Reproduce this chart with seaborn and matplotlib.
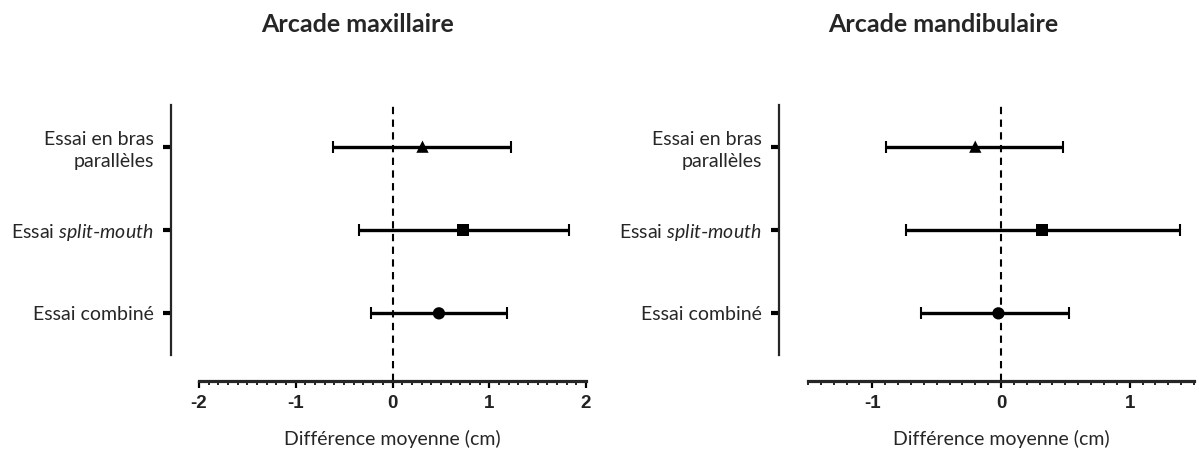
import numpy as np
import pandas as pd
import matplotlib
matplotlib.use("Agg")
import matplotlib.pyplot as plt
from matplotlib.ticker import MultipleLocator
import seaborn as sns

sns.set_theme(style="ticks")
plt.rcParams["font.family"] = ["Lato", "DejaVu Sans"]
plt.rcParams["mathtext.fontset"] = "custom"
plt.rcParams["mathtext.rm"] = "Lato"
plt.rcParams["mathtext.it"] = "Lato:italic"

trials = ["Essai en bras\nparallèles", "Essai $\\it{split}$-$\\it{mouth}$", "Essai combiné"]
markers = ["^", "s", "o"]

maxi_mean = [0.31, 0.73, 0.48]
maxi_low = [-0.61, -0.35, -0.22]
maxi_high = [1.22, 1.82, 1.18]

mandi_mean = [-0.20, 0.32, -0.02]
mandi_low = [-0.89, -0.74, -0.62]
mandi_high = [0.48, 1.39, 0.53]

panels = [
    ("Arcade maxillaire", maxi_mean, maxi_low, maxi_high, (-2, 2), [-2, -1, 0, 1, 2]),
    ("Arcade mandibulaire", mandi_mean, mandi_low, mandi_high, (-1.5, 1.5), [-1, 0, 1]),
]

W, H = 1199, 465
fig = plt.figure(figsize=(W / 100, H / 100), dpi=100)
boxes = [(199, 586, 20.2), (808, 1194, 20.9)]
title_x = [358, 943]

for (title, mean, low, high, xlim, xt), (x0, x1, off), tx in zip(panels, boxes, title_x):
    ax = fig.add_axes([x0 / W, (H - 355) / H, (x1 - x0) / W, 250 / H])
    df = pd.DataFrame({"trial": trials, "mean": mean, "low": low, "high": high,
                       "pos": np.arange(len(trials))})
    ax.errorbar(df["mean"], df["pos"],
                xerr=[df["mean"] - df["low"], df["high"] - df["mean"]],
                fmt="none", ecolor="black", elinewidth=2.4, capsize=4.6,
                capthick=1.5, zorder=2)
    sns.scatterplot(data=df, x="mean", y="pos", style="trial",
                    markers=dict(zip(trials, markers)), color="black",
                    s=78, edgecolor="black", linewidth=0, legend=False,
                    zorder=3, ax=ax)
    ax.axvline(0, ymin=-0.104, ymax=1, color="black", lw=1.5,
               ls=(0, (3.5, 2.6)), clip_on=False, zorder=1)

    ax.set_xlim(*xlim)
    ax.set_ylim(2.5, -0.5)
    ax.set_xticks(xt)
    ax.xaxis.set_minor_locator(MultipleLocator(0.1))
    ax.set_yticks(df["pos"])
    ax.set_ylabel("")

    sns.despine(ax=ax, offset={"left": off, "bottom": 18.7})
    ax.spines["left"].set_linewidth(1.6)
    ax.spines["bottom"].set_linewidth(2.3)
    ax.tick_params(axis="y", length=6, width=3, pad=6.5, color="black")
    ax.tick_params(axis="x", which="major", length=5, width=1.6, pad=5, color="black")
    ax.tick_params(axis="x", which="minor", length=3, width=1.2, color="black")

    ax.set_xticklabels([str(v) for v in xt],
                       fontdict={"family": "Liberation Sans", "weight": "bold",
                                 "size": 13.5, "color": "#222222"})
    ax.set_yticklabels(trials, fontsize=14, ha="right", linespacing=1.35)
    ax.set_xlabel("Différence moyenne (cm)", fontsize=14, labelpad=13)

    fig.text(tx / W, 1 - 24 / H, title, ha="center", va="center",
             fontsize=18, fontweight="bold")

fig.savefig("out.png", dpi=100)
